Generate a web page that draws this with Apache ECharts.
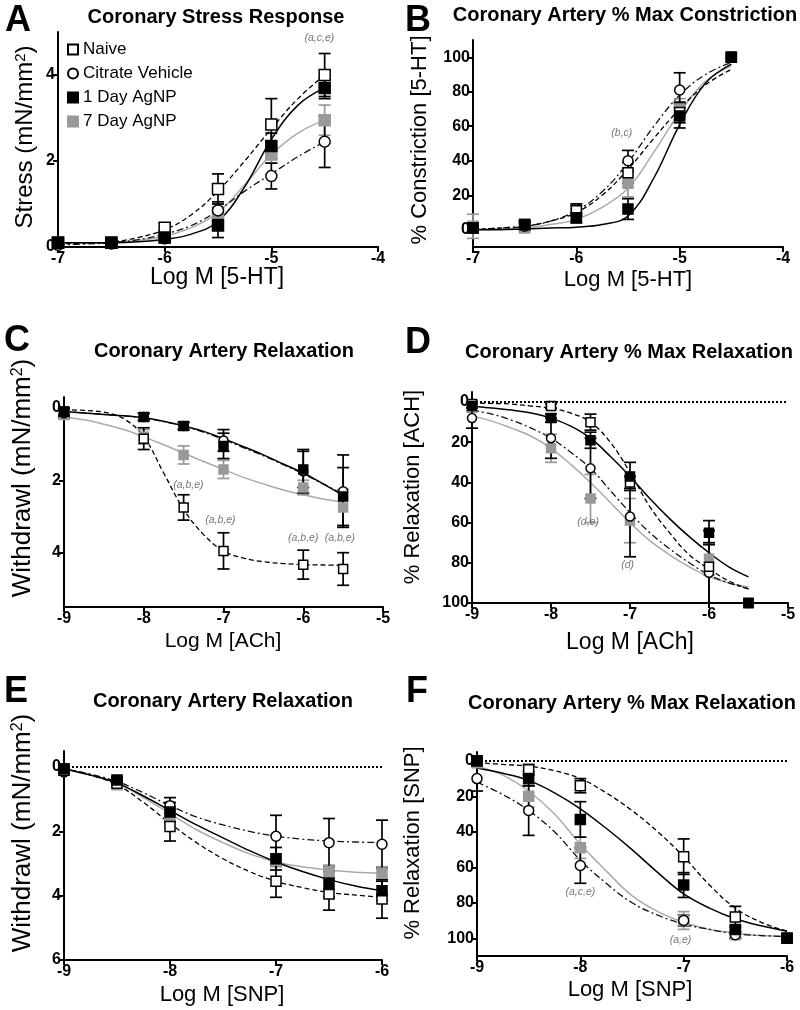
<!DOCTYPE html>
<html><head><meta charset="utf-8">
<script src="https://cdn.jsdelivr.net/npm/echarts@6/dist/echarts.min.js"></script>
<style>html,body{margin:0;padding:0;background:#fff}#c{width:800px;height:1010px}</style>
</head><body><div id="c"></div>
<script>
// ---------------- DATA ----------------
const groups = ['Naive', 'Citrate Vehicle', '1 Day AgNP', '7 Day AgNP'];

// Panel A - Coronary Stress Response (mN/mm2) vs Log M [5-HT]
const xA = [-7, -6.5, -6, -5.5, -5, -4.5];
const naiveA = [0.1, 0.1, 0.45, 1.35, 2.85, 4.0];
const naiveAErr = [0.05, 0.05, 0.1, 0.35, 0.6, 0.5];
const citrateA = [0.05, 0.08, 0.2, 0.85, 1.65, 2.45];
const citrateAErr = [0.05, 0.05, 0.1, 0.2, 0.3, 0.6];
const day1A = [0.1, 0.1, 0.22, 0.5, 2.35, 3.7];
const day1AErr = [0.05, 0.05, 0.1, 0.28, 0.3, 0.25];
const day7A = [0.1, 0.1, 0.25, 0.8, 2.15, 2.95];
const day7AErr = [0.05, 0.05, 0.05, 0.2, 0.2, 0.35];
const fitXA = [-7, -6.75, -6.5, -6.25, -6, -5.75, -5.5, -5.25, -5, -4.75, -4.5];
const naiveFitA = [0.08, 0.09, 0.12, 0.22, 0.4, 0.75, 1.3, 2.0, 2.75, 3.45, 4.0];
const citrateFitA = [0.05, 0.07, 0.1, 0.17, 0.3, 0.5, 0.85, 1.3, 1.7, 2.1, 2.45];
const day1FitA = [0.1, 0.1, 0.1, 0.12, 0.18, 0.3, 0.6, 1.4, 2.5, 3.3, 3.7];
const day7FitA = [0.1, 0.1, 0.1, 0.15, 0.25, 0.45, 0.8, 1.45, 2.15, 2.65, 2.95];
const annA = [[-4.55, 4.86, '(a,c,e)']];

// Panel B - % Max Constriction vs Log M [5-HT]
const xB = [-7, -6.5, -6, -5.5, -5, -4.5];
const naiveB = [1, 3, 11, 33, 68, 100];
const naiveBErr = [2, 2, 3, 6, 6, 0];
const citrateB = [1, 2, 12, 40, 81, 100];
const citrateBErr = [2, 2, 3, 6, 10, 0];
const day1B = [1, 3, 7, 12, 66, 100];
const day1BErr = [2, 2, 3, 6, 7, 0];
const day7B = [2, 1, 8, 27, 70, 100];
const day7BErr = [7, 2, 3, 8, 6, 0];
const fitXB = [-7, -6.75, -6.5, -6.25, -6, -5.75, -5.5, -5.25, -5, -4.75, -4.5];
const naiveFitB = [0, 1, 2, 5, 10, 20, 35, 53, 70, 84, 93];
const citrateFitB = [0, 1, 2, 5, 11, 22, 39, 60, 78, 90, 97];
const day1FitB = [0, 0, 0.5, 1, 1.5, 3, 8, 30, 61, 85, 96];
const day7FitB = [0, 0.5, 1, 3, 6, 13, 24, 45, 68, 86, 95];
const annB = [[-5.56, 56, '(b,c)']];

// Panel C - Withdrawl (mN/mm2) vs Log M [ACh]
const xC = [-9, -8, -7.5, -7, -6, -5.5];
const naiveC = [0.1, 0.85, 2.75, 3.95, 4.33, 4.45];
const naiveCErr = [0.1, 0.3, 0.35, 0.5, 0.4, 0.45];
const citrateC = [0.15, 0.25, 0.5, 0.9, 1.75, 2.3];
const citrateCErr = [0.1, 0.1, 0.1, 0.3, 0.6, 1.0];
const day1C = [0.1, 0.25, 0.5, 1.05, 1.7, 2.45];
const day1CErr = [0.1, 0.1, 0.1, 0.35, 0.5, 0.8];
const day7C = [0.2, 0.8, 1.3, 1.7, 2.2, 2.75];
const day7CErr = [0.1, 0.2, 0.25, 0.25, 0.2, 0.5];
const fitXC = [-9, -8.75, -8.5, -8.25, -8, -7.75, -7.5, -7.25, -7, -6.75, -6.5, -6.25, -6, -5.75, -5.5];
const naiveFitC = [0.05, 0.07, 0.12, 0.3, 0.8, 1.8, 2.8, 3.5, 3.95, 4.15, 4.25, 4.3, 4.33, 4.34, 4.35];
const citrateFitC = [0.1, 0.14, 0.18, 0.22, 0.28, 0.38, 0.5, 0.67, 0.87, 1.1, 1.32, 1.57, 1.82, 2.1, 2.38];
const day1FitC = [0.1, 0.14, 0.18, 0.22, 0.27, 0.37, 0.5, 0.65, 0.85, 1.07, 1.3, 1.55, 1.8, 2.1, 2.42];
const day7FitC = [0.25, 0.33, 0.45, 0.6, 0.8, 1.02, 1.25, 1.48, 1.7, 1.92, 2.1, 2.27, 2.4, 2.52, 2.6];
const annC = [[-7.44, 2.12, '(a,b,e)'], [-7.04, 3.09, '(a,b,e)'], [-6.0, 3.59, '(a,b,e)'], [-5.54, 3.59, '(a,b,e)']];

// Panel D - % Relaxation [ACh] vs Log M [ACh]
const xD = [-9, -8, -7.5, -7, -6, -5.5];
const naiveD = [1, 2, 10, 40, 82, 100];
const naiveDErr = [0, 1, 4, 3, 18, 0];
const citrateD = [8, 18, 33, 57, 85, 100];
const citrateDErr = [5, 10, 15, 20, 15, 0];
const day1D = [2, 8, 19, 37, 65, 100];
const day1DErr = [1, 2, 4, 7, 6, 0];
const day7D = [2, 23, 48, 59, 78, 100];
const day7DErr = [3, 7, 12, 11, 8, 0];
const fitXD = [-9, -8.75, -8.5, -8.25, -8, -7.75, -7.5, -7.25, -7, -6.75, -6.5, -6.25, -6, -5.75, -5.5];
const naiveFitD = [0.5, 0.7, 1, 2, 3, 5.5, 10, 20, 35, 52, 65, 76, 83, 89, 93];
const citrateFitD = [4, 6, 9, 13, 18, 25, 33, 44, 55, 65, 73, 80, 86, 90, 93];
const day1FitD = [2, 3, 4, 5.5, 8, 12, 18, 27, 37, 48, 58, 67, 75, 82, 87];
const day7FitD = [7, 9.5, 13, 17, 23, 31, 40, 50, 60, 69, 76, 82, 87, 90, 92];
const annD = [[-7.53, 59.5, '(d,e)'], [-7.03, 81, '(d)']];

// Panel E - Withdrawl (mN/mm2) vs Log M [SNP]
const xE = [-9, -8.5, -8, -7, -6.5, -6];
const naiveE = [0.1, 0.5, 1.85, 3.55, 3.95, 4.1];
const naiveEErr = [0.05, 0.1, 0.45, 0.5, 0.5, 0.6];
const citrateE = [0.15, 0.5, 1.2, 2.15, 2.35, 2.4];
const citrateEErr = [0.05, 0.1, 0.25, 0.65, 0.75, 0.75];
const day1E = [0.05, 0.4, 1.4, 2.85, 3.65, 3.85];
const day1EErr = [0.05, 0.1, 0.3, 0.35, 0.4, 0.3];
const day7E = [0.1, 0.55, 1.5, 2.9, 3.25, 3.3];
const day7EErr = [0.05, 0.1, 0.2, 0.2, 0.2, 0.2];
const fitXE = [-9, -8.75, -8.5, -8.25, -8, -7.75, -7.5, -7.25, -7, -6.75, -6.5, -6.25, -6];
const naiveFitE = [0.05, 0.25, 0.55, 1.1, 1.75, 2.35, 2.85, 3.25, 3.55, 3.75, 3.9, 3.98, 4.05];
const citrateFitE = [0.05, 0.22, 0.45, 0.8, 1.2, 1.55, 1.8, 2.0, 2.15, 2.24, 2.3, 2.33, 2.35];
const day1FitE = [0.05, 0.25, 0.5, 0.9, 1.35, 1.8, 2.2, 2.6, 2.95, 3.25, 3.5, 3.7, 3.85];
const day7FitE = [0.05, 0.25, 0.5, 0.95, 1.45, 1.95, 2.35, 2.7, 2.95, 3.1, 3.2, 3.27, 3.3];
const annE = [];

// Panel F - % Relaxation [SNP] vs Log M [SNP]
const xF = [-9, -8.5, -8, -7, -6.5, -6];
const naiveF = [0, 5, 14, 54, 88, 100];
const naiveFErr = [1, 3, 4, 10, 6, 0];
const citrateF = [10, 28, 59, 90, 98, 100];
const citrateFErr = [7, 14, 10, 3, 2, 0];
const day1F = [0, 10, 33, 70, 95, 100];
const day1FErr = [1, 4, 10, 7, 2, 0];
const day7F = [1, 20, 49, 90, 98, 100];
const day7FErr = [2, 6, 6, 5, 2, 0];
const fitXF = [-9, -8.75, -8.5, -8.25, -8, -7.75, -7.5, -7.25, -7, -6.75, -6.5, -6.25, -6];
const naiveFitF = [1, 2, 3, 5.5, 10, 18, 28, 40, 54, 70, 83, 91, 96];
const citrateFitF = [12, 19, 28, 40, 56, 69, 80, 87, 92, 95, 97.5, 98.5, 99];
const day1FitF = [4, 7, 11, 18, 27, 38, 50, 63, 75, 83, 89, 93, 96];
const day7FitF = [3, 8, 17, 30, 47, 62, 76, 85, 91, 95, 97, 98.5, 99];
const annF = [[-8.0, 74, '(a,c,e)'], [-7.03, 101, '(a,e)']];

// Tick labels
const xTicksAB = [-7, -6, -5, -4];
const xTicksCD = [-9, -8, -7, -6, -5];
const xTicksEF = [-9, -8, -7, -6];
const yTicksA = [0, 2, 4];
const yTicksPct = [0, 20, 40, 60, 80, 100];
const yTicksC = [0, 2, 4];
const yTicksE = [0, 2, 4, 6];

// ---------------- LAYOUT / STYLE ----------------
const FONT = '"Liberation Sans", Arial, Helvetica, sans-serif';
const style = {
  'Naive':           { symbol: 'rect',   fill: '#fff', border: '#000', line: '#000', dash: [5, 3], err: '#000', lw: 1.3 },
  'Citrate Vehicle': { symbol: 'circle', fill: '#fff', border: '#000', line: '#111', dash: [7, 3, 2, 3], err: '#000', lw: 1.3 },
  '1 Day AgNP':      { symbol: 'rect',   fill: '#000', border: '#000', line: '#000', dash: 'solid', err: '#000', lw: 1.5 },
  '7 Day AgNP':      { symbol: 'rect',   fill: '#999', border: '#999', line: '#aaa', dash: 'solid', err: '#999', lw: 1.5 }
};
const drawOrder = ['7 Day AgNP', 'Citrate Vehicle', 'Naive', '1 Day AgNP'];

const panels = [
  { rect: [58, 32, 320, 215], xr: [-7, -4], yr: [0, 5], inv: false, xt: xTicksAB, yt: yTicksA, sym: 11,
    x: xA, vals: [naiveA, citrateA, day1A, day7A], errs: [naiveAErr, citrateAErr, day1AErr, day7AErr],
    fx: fitXA, fits: [naiveFitA, citrateFitA, day1FitA, day7FitA], ann: annA, dotted: false },
  { rect: [473, 40, 310, 207], xr: [-7, -4], yr: [-10, 110], inv: false, xt: xTicksAB, yt: yTicksPct, sym: 10,
    x: xB, vals: [naiveB, citrateB, day1B, day7B], errs: [naiveBErr, citrateBErr, day1BErr, day7BErr],
    fx: fitXB, fits: [naiveFitB, citrateFitB, day1FitB, day7FitB], ann: annB, dotted: false },
  { rect: [64, 397, 319, 210], xr: [-9, -5], yr: [-0.3, 5.5], inv: true, xt: xTicksCD, yt: yTicksC, sym: 9,
    x: xC, vals: [naiveC, citrateC, day1C, day7C], errs: [naiveCErr, citrateCErr, day1CErr, day7CErr],
    fx: fitXC, fits: [naiveFitC, citrateFitC, day1FitC, day7FitC], ann: annC, dotted: false },
  { rect: [472, 392, 316, 211], xr: [-9, -5], yr: [-5, 100], inv: true, xt: xTicksCD, yt: yTicksPct, sym: 9,
    x: xD, vals: [naiveD, citrateD, day1D, day7D], errs: [naiveDErr, citrateDErr, day1DErr, day7DErr],
    fx: fitXD, fits: [naiveFitD, citrateFitD, day1FitD, day7FitD], ann: annD, dotted: true },
  { rect: [64, 751, 318, 209], xr: [-9, -6], yr: [-0.5, 6], inv: true, xt: xTicksEF, yt: yTicksE, sym: 10,
    x: xE, vals: [naiveE, citrateE, day1E, day7E], errs: [naiveEErr, citrateEErr, day1EErr, day7EErr],
    fx: fitXE, fits: [naiveFitE, citrateFitE, day1FitE, day7FitE], ann: annE, dotted: true },
  { rect: [477, 752, 310, 204], xr: [-9, -6], yr: [-5, 110], inv: true, xt: xTicksEF, yt: yTicksPct, sym: 10,
    x: xF, vals: [naiveF, citrateF, day1F, day7F], errs: [naiveFErr, citrateFErr, day1FErr, day7FErr],
    fx: fitXF, fits: [naiveFitF, citrateFitF, day1FitF, day7FitF], ann: annF, dotted: true }
];

function errRender(color) {
  return function (params, api) {
    const x = api.value(0), y = api.value(1), e = api.value(2);
    if (!e) return null;
    const t = api.coord([x, y + e]), b = api.coord([x, y - e]);
    const st = { stroke: color, lineWidth: 1.7 };
    const cap = 6;
    return { type: 'group', children: [
      { type: 'line', shape: { x1: t[0], y1: t[1], x2: b[0], y2: b[1] }, style: st },
      { type: 'line', shape: { x1: t[0] - cap, y1: t[1], x2: t[0] + cap, y2: t[1] }, style: st },
      { type: 'line', shape: { x1: b[0] - cap, y1: b[1], x2: b[0] + cap, y2: b[1] }, style: st }
    ] };
  };
}

const grid = [], xAxis = [], yAxis = [], series = [];
const axisLineStyle = { color: '#000', width: 2 };
const labelStyle = { color: '#000', fontWeight: 'bold', fontSize: 16, fontFamily: FONT };

panels.forEach((p, i) => {
  grid.push({ left: p.rect[0], top: p.rect[1], width: p.rect[2], height: p.rect[3], containLabel: false });
  xAxis.push({ gridIndex: i, type: 'value', min: p.xr[0], max: p.xr[1], interval: 1,
    axisLine: { onZero: false, lineStyle: axisLineStyle },
    axisTick: { length: 5, lineStyle: axisLineStyle, customValues: p.xt },
    axisLabel: Object.assign({ margin: 4, customValues: p.xt }, labelStyle),
    splitLine: { show: false } });
  yAxis.push({ gridIndex: i, type: 'value', min: p.yr[0], max: p.yr[1], inverse: p.inv,
    axisLine: { show: true, onZero: false, lineStyle: axisLineStyle },
    axisTick: { show: true, length: 5, lineStyle: axisLineStyle, customValues: p.yt },
    axisLabel: Object.assign({ margin: 3, customValues: p.yt }, labelStyle),
    splitLine: { show: false } });

  if (p.dotted) {
    series.push({ type: 'line', xAxisIndex: i, yAxisIndex: i, data: [], silent: true,
      markLine: { silent: true, symbol: 'none', label: { show: false }, animation: false,
        lineStyle: { type: 'dotted', color: '#000', width: 2 }, data: [{ yAxis: 0 }] } });
  }
  drawOrder.forEach(g => {
    const k = groups.indexOf(g), s = style[g];
    series.push({ type: 'line', name: g + ' fit', xAxisIndex: i, yAxisIndex: i,
      data: p.fx.map((x, j) => [x, p.fits[k][j]]), symbol: 'none', showSymbol: false,
      smooth: 0.4, clip: false, silent: true, z: 2,
      lineStyle: { color: s.line, width: s.lw, type: s.dash } });
  });
  drawOrder.forEach(g => {
    const k = groups.indexOf(g), s = style[g];
    series.push({ type: 'custom', name: g + ' err', xAxisIndex: i, yAxisIndex: i, clip: false, silent: true, z: 3,
      encode: { x: 0, y: 1 }, renderItem: errRender(s.err),
      data: p.x.map((x, j) => [x, p.vals[k][j], p.errs[k][j]]) });
  });
  drawOrder.forEach(g => {
    const k = groups.indexOf(g), s = style[g];
    series.push({ type: 'scatter', name: g, xAxisIndex: i, yAxisIndex: i, clip: false, z: 4,
      symbol: s.symbol, symbolSize: p.sym,
      itemStyle: { color: s.fill, borderColor: s.border, borderWidth: 1.5, opacity: 1 },
      data: p.x.map((x, j) => [x, p.vals[k][j]]) });
  });
  if (p.ann.length) {
    series.push({ type: 'scatter', xAxisIndex: i, yAxisIndex: i, clip: false, z: 5, symbolSize: 0, silent: true,
      data: p.ann.map(a => ({ value: [a[0], a[1]], name: a[2] })),
      label: { show: true, position: 'inside', formatter: q => q.name, color: '#555',
        fontStyle: 'italic', fontSize: 10.5, fontFamily: FONT } });
  }
});

function txt(x, y, text, size, bold, rot) {
  return { type: 'text', x: x, y: y, rotation: rot || 0, silent: true,
    style: { text: text, fill: '#000', font: (bold ? 'bold ' : '') + size + 'px ' + FONT,
      textAlign: 'center', textVerticalAlign: 'middle',
      rich: { s: { fontSize: Math.round(size * 0.62), fontFamily: FONT, verticalAlign: 'top', fill: '#000' } } } };
}
const R = Math.PI / 2;
const graphic = [
  txt(18, 21, 'A', 36, true), txt(418, 21, 'B', 36, true),
  txt(17, 341, 'C', 36, true), txt(418, 343, 'D', 36, true),
  txt(16, 692, 'E', 36, true), txt(417, 692, 'F', 36, true),
  txt(216, 17, 'Coronary Stress Response', 20, true),
  txt(625, 15, 'Coronary Artery % Max Constriction', 20, true),
  txt(224, 351, 'Coronary Artery Relaxation', 20, true),
  txt(629, 352, 'Coronary Artery % Max Relaxation', 20, true),
  txt(223, 701, 'Coronary Artery Relaxation', 20, true),
  txt(632, 703, 'Coronary Artery % Max Relaxation', 20, true),
  txt(217, 278, 'Log M [5-HT]', 23, false),
  txt(628, 280, 'Log M [5-HT]', 22, false),
  txt(223, 641, 'Log M [ACh]', 21, false),
  txt(630, 643, 'Log M [ACh]', 23, false),
  txt(222, 995, 'Log M [SNP]', 22, false),
  txt(630, 990, 'Log M [SNP]', 22, false),
  txt(25, 137, 'Stress (mN/mm{s|2})', 24, false, R),
  txt(420, 140, '% Constriction [5-HT]', 22, false, R),
  txt(23, 478, 'Withdrawl (mN/mm{s|2})', 26, false, R),
  txt(413, 487, '% Relaxation [ACH]', 22, false, R),
  txt(23, 833, 'Withdrawl (mN/mm{s|2})', 26, false, R),
  txt(413, 843, '% Relaxation [SNP]', 22, false, R)
];

const chart = echarts.init(document.getElementById('c'), null, { renderer: 'canvas' });
chart.setOption({
  animation: false,
  backgroundColor: '#fff',
  grid, xAxis, yAxis, series, graphic,
  legend: { orient: 'vertical', left: 67, top: 41, padding: 0, itemGap: 7, itemWidth: 10, itemHeight: 10,
    data: groups, textStyle: { fontSize: 17, color: '#000', fontFamily: FONT }, selectedMode: false }
});
</script></body></html>
